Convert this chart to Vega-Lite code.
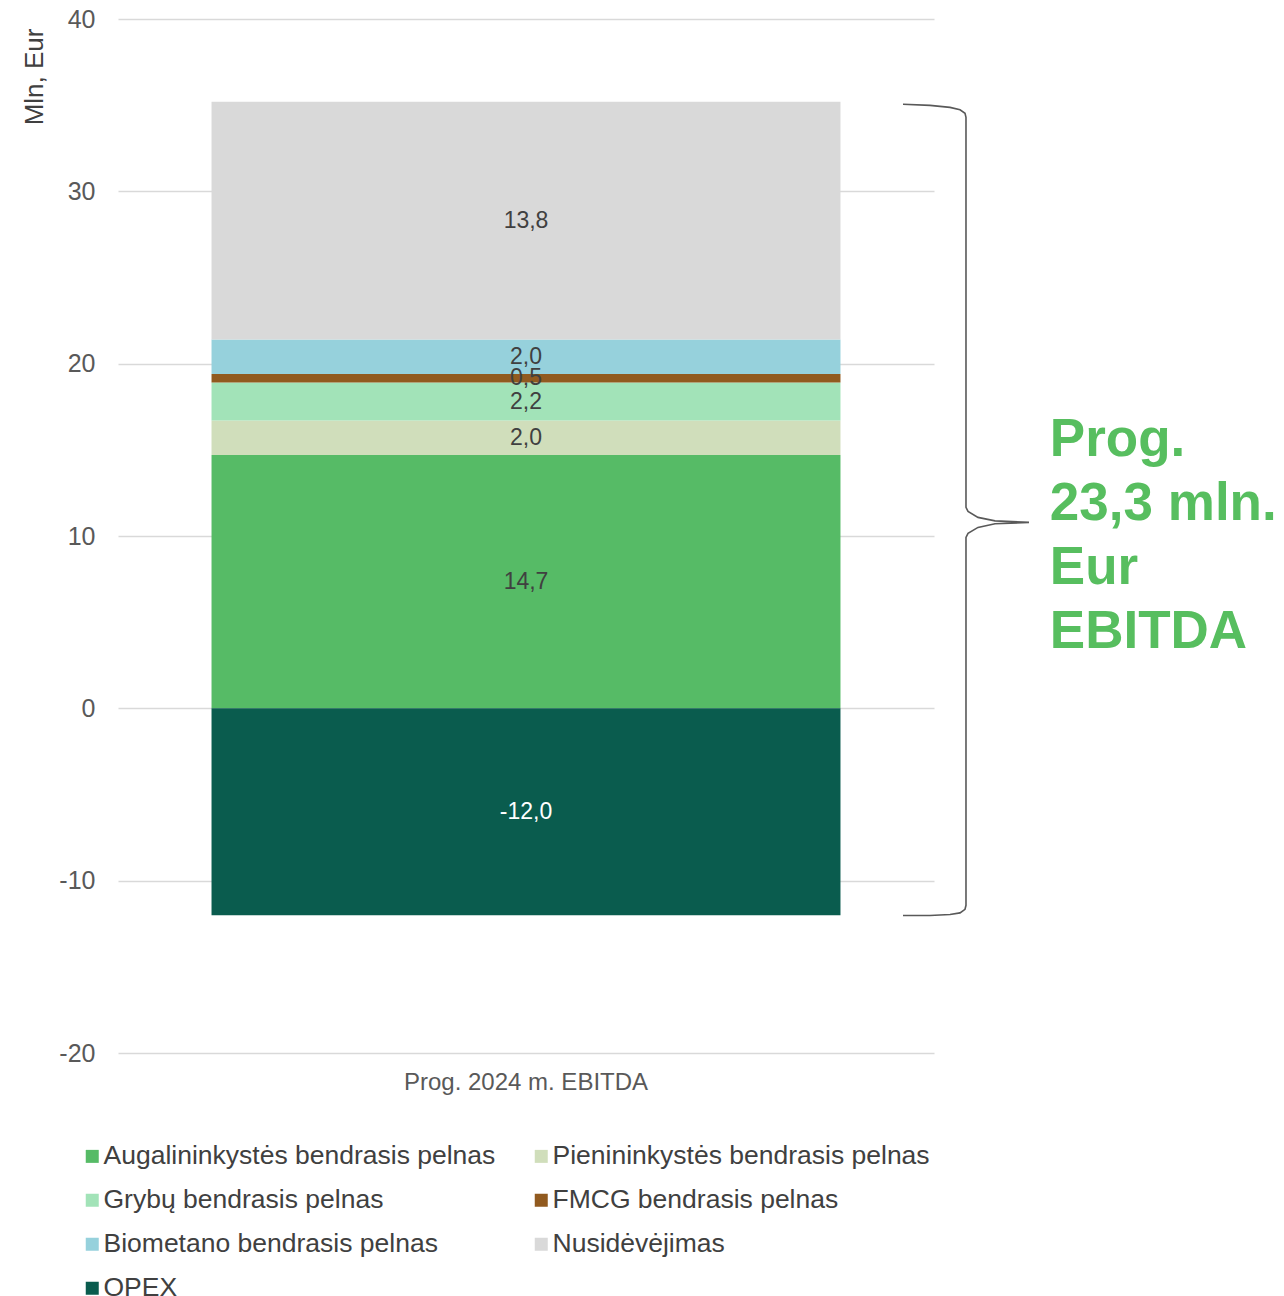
{
  "$schema": "https://vega.github.io/schema/vega-lite/v6.json",
  "width": 816,
  "height": 1034,
  "autosize": {"type": "none"},
  "padding": {"left": 118, "top": 19, "right": 350, "bottom": 243},
  "background": "white",
  "config": {
    "font": "Liberation Sans",
    "view": {"stroke": null},
    "locale": {
      "number": {"decimal": ",", "thousands": " ", "grouping": [3], "currency": ["", " €"], "minus": "-"}
    }
  },
  "datasets": {
    "bars": [
      {"cat": "Prog. 2024 m. EBITDA", "series": "Augalininkystės bendrasis pelnas", "value": 14.7, "ord": 1},
      {"cat": "Prog. 2024 m. EBITDA", "series": "Pienininkystės bendrasis pelnas", "value": 2.0, "ord": 2},
      {"cat": "Prog. 2024 m. EBITDA", "series": "Grybų bendrasis pelnas", "value": 2.2, "ord": 3},
      {"cat": "Prog. 2024 m. EBITDA", "series": "FMCG bendrasis pelnas", "value": 0.5, "ord": 4},
      {"cat": "Prog. 2024 m. EBITDA", "series": "Biometano bendrasis pelnas", "value": 2.0, "ord": 5},
      {"cat": "Prog. 2024 m. EBITDA", "series": "Nusidėvėjimas", "value": 13.8, "ord": 6},
      {"cat": "Prog. 2024 m. EBITDA", "series": "OPEX", "value": -12.0, "ord": 7}
    ],
    "brace": [
      {"i": 1, "bx": 0.962, "by": 35.05},
      {"i": 2, "bx": 0.9951, "by": 34.99},
      {"i": 3, "bx": 1.0196, "by": 34.87},
      {"i": 4, "bx": 1.0319, "by": 34.73},
      {"i": 5, "bx": 1.038, "by": 34.53},
      {"i": 6, "bx": 1.0392, "by": 34.3},
      {"i": 7, "bx": 1.0392, "by": 11.66},
      {"i": 8, "bx": 1.0417, "by": 11.43},
      {"i": 9, "bx": 1.0539, "by": 11.08},
      {"i": 10, "bx": 1.0748, "by": 10.88},
      {"i": 11, "bx": 1.1164, "by": 10.79},
      {"i": 12, "bx": 1.0748, "by": 10.71},
      {"i": 13, "bx": 1.0539, "by": 10.5},
      {"i": 14, "bx": 1.0417, "by": 10.15},
      {"i": 15, "bx": 1.0392, "by": 9.92},
      {"i": 16, "bx": 1.0392, "by": -11.43},
      {"i": 17, "bx": 1.038, "by": -11.66},
      {"i": 18, "bx": 1.0319, "by": -11.87},
      {"i": 19, "bx": 1.0196, "by": -11.96},
      {"i": 20, "bx": 0.9951, "by": -12.02},
      {"i": 21, "bx": 0.962, "by": -12.02}
    ],
    "annot": [
      {"tx": 1.142, "ty": 15.55, "label": "Prog.\n23,3 mln.\nEur\nEBITDA"}
    ]
  },
  "resolve": {"scale": {"x": "independent"}},
  "layer": [
    {
      "data": {"name": "bars"},
      "layer": [
        {
          "mark": {"type": "bar"},
          "encoding": {
            "x": {
              "field": "cat", "type": "nominal",
              "scale": {"paddingInner": 0, "paddingOuter": 0.1487},
              "axis": {"title": null, "labelFontSize": 24, "labelColor": "#595959", "labelPadding": 17, "labelLimit": 800, "domain": false, "ticks": false, "grid": false, "labelAngle": 0}
            },
            "y": {
              "field": "value", "type": "quantitative", "stack": "zero",
              "scale": {"domain": [-20, 40], "nice": false},
              "title": "Mln, Eur",
              "axis": {
                "values": [-20, -10, 0, 10, 20, 30, 40],
                "format": "d",
                "labelFontSize": 25, "labelColor": "#595959", "labelPadding": 23,
                "domain": false, "ticks": false,
                "gridColor": "#D9D9D9", "gridWidth": 1.5,
                "titleFontSize": 26, "titleFontWeight": "normal", "titleColor": "#404040",
                "titleAngle": -90, "titleAlign": "right", "titleBaseline": "middle",
                "titleX": -84, "titleY": 9
              }
            },
            "color": {
              "field": "series", "type": "nominal",
              "scale": {
                "domain": ["Augalininkystės bendrasis pelnas", "Pienininkystės bendrasis pelnas", "Grybų bendrasis pelnas", "FMCG bendrasis pelnas", "Biometano bendrasis pelnas", "Nusidėvėjimas", "OPEX"],
                "range": ["#56BB66", "#D0DEBB", "#A2E3B8", "#915A1F", "#96D1DC", "#D9D9D9", "#0A5C4E"]
              },
              "legend": {
                "title": null, "orient": "none", "legendX": -39, "legendY": 1124,
                "direction": "horizontal",
                "columns": 2, "columnPadding": 32, "rowPadding": 17,
                "symbolType": "square", "symbolSize": 169, "symbolStrokeWidth": 0,
                "labelFontSize": 26.5, "labelColor": "#404040", "labelOffset": -2, "labelLimit": 700
              }
            },
            "order": {"field": "ord", "type": "quantitative"}
          }
        },
        {
          "mark": {"type": "text", "fontSize": 23, "baseline": "middle", "align": "center"},
          "encoding": {
            "x": {"field": "cat", "type": "nominal"},
            "y": {"field": "value", "type": "quantitative", "stack": "zero", "bandPosition": 0.5, "title": "Mln, Eur"},
            "detail": {"field": "series", "type": "nominal"},
            "order": {"field": "ord", "type": "quantitative"},
            "text": {"field": "value", "type": "quantitative", "format": ".1f"},
            "color": {"condition": {"test": "datum.series === 'OPEX'", "value": "#FFFFFF"}, "value": "#404040"}
          }
        }
      ]
    },
    {
      "data": {"name": "brace"},
      "mark": {"type": "line", "color": "#595959", "strokeWidth": 1.6, "interpolate": "linear"},
      "encoding": {
        "x": {"field": "bx", "type": "quantitative", "scale": {"domain": [0, 1], "nice": false, "zero": false}, "axis": null},
        "y": {"field": "by", "type": "quantitative", "title": "Mln, Eur"},
        "order": {"field": "i", "type": "quantitative"}
      }
    },
    {
      "data": {"name": "annot"},
      "mark": {"type": "text", "fontSize": 53, "fontWeight": "bold", "color": "#57BE5F", "align": "left", "baseline": "middle", "lineHeight": 64, "lineBreak": "\n"},
      "encoding": {
        "x": {"field": "tx", "type": "quantitative", "scale": {"domain": [0, 1], "nice": false, "zero": false}, "axis": null},
        "y": {"field": "ty", "type": "quantitative", "title": "Mln, Eur"},
        "text": {"field": "label", "type": "nominal"}
      }
    }
  ]
}
